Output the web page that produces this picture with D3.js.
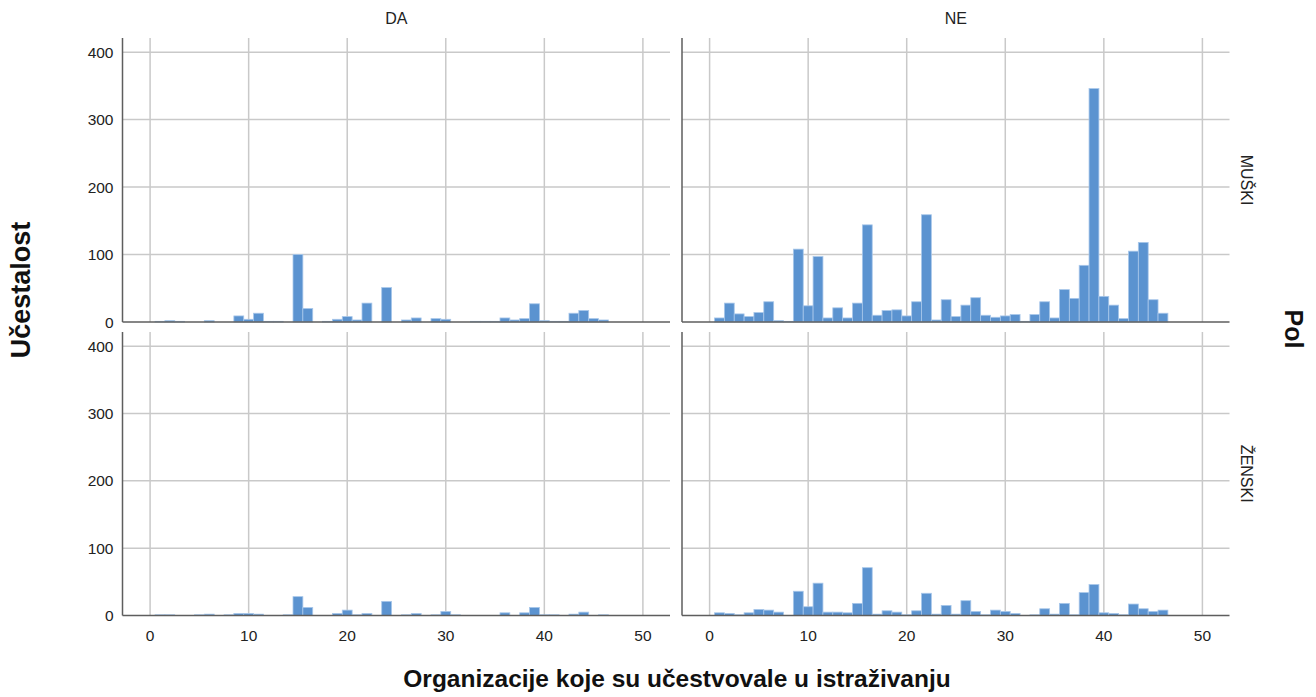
<!DOCTYPE html>
<html>
<head>
<meta charset="utf-8">
<script src="https://cdn.jsdelivr.net/npm/d3@7"></script>
<style>
  body { margin: 0; background: #fff; }
  text { font-family: "Liberation Sans", Arial, sans-serif; }
</style>
</head>
<body>
<div id="chart"></div>
<script>
// bins 1..46 (organizacija), one count per bin
var bins = d3.range(1, 47);

var daMuski = [1, 2, 1, 0, 0, 2, 0, 0, 9, 4, 13, 1, 1, 0, 100, 20, 0, 1, 4, 8, 3, 28, 0, 51, 0,
  3, 6, 0, 5, 4, 0, 0, 1, 1, 1, 6, 3, 5, 27, 2, 1, 1, 13, 17, 5, 3];
var neMuski = [6, 28, 12, 8, 14, 30, 2, 1, 108, 24, 97, 6, 21, 6, 28, 144, 10, 17, 18, 9, 30, 159, 3, 33, 8,
  25, 36, 10, 7, 9, 11, 1, 11, 30, 6, 48, 35, 84, 346, 38, 25, 5, 105, 118, 33, 13];
var daZenski = [1, 1, 0, 0, 1, 2, 0, 1, 3, 3, 2, 0, 0, 1, 28, 12, 0, 0, 3, 8, 1, 3, 0, 21, 0,
  1, 3, 0, 1, 6, 1, 0, 0, 0, 0, 4, 0, 4, 12, 1, 1, 0, 2, 5, 0, 1];
var neZenski = [4, 3, 1, 4, 9, 8, 5, 0, 36, 13, 48, 5, 5, 4, 18, 71, 2, 7, 5, 1, 7, 33, 2, 15, 2,
  22, 6, 1, 8, 6, 3, 0, 1, 10, 2, 18, 1, 34, 46, 4, 3, 1, 17, 10, 6, 8];

var colLabels = ["DA", "NE"];
var rowLabels = ["MUŠKI", "ŽENSKI"];
var xTicks = [0, 10, 20, 30, 40, 50];
var yTicks = [0, 100, 200, 300, 400];

var svgWidth = 1316;
var svgHeight = 697;

var svg = d3.select("#chart")
  .append("svg")
  .attr("width", svgWidth)
  .attr("height", svgHeight);

// panel boxes
var cols = [{left: 122.5, right: 670}, {left: 682, right: 1229.5}];
var rows = [{top: 38, bottom: 322}, {top: 332, bottom: 615.5}];

var panels = [
  {c: 0, r: 0, values: daMuski},
  {c: 1, r: 0, values: neMuski},
  {c: 0, r: 1, values: daZenski},
  {c: 1, r: 1, values: neZenski}
];

var gridColor = "#c9c9c9";
var axisColor = "#5e5e5e";
var barColor = "#5b93d0";

panels.forEach(function(p) {
  var col = cols[p.c];
  var row = rows[p.r];

  var x = d3.scaleLinear()
    .domain([-2.8, 52.75])
    .range([col.left, col.right]);

  var y = d3.scaleLinear()
    .domain([0, 421])
    .range([row.bottom, row.top]);

  var g = svg.append("g");

  // horizontal grid
  g.selectAll(".hgrid")
    .data(yTicks.filter(function(d) { return d > 0; }))
    .enter()
    .append("line")
    .attr("x1", col.left)
    .attr("x2", col.right)
    .attr("y1", d => y(d))
    .attr("y2", d => y(d))
    .attr("stroke", gridColor)
    .attr("stroke-width", 1.5);

  // vertical grid
  g.selectAll(".vgrid")
    .data(xTicks)
    .enter()
    .append("line")
    .attr("x1", d => x(d))
    .attr("x2", d => x(d))
    .attr("y1", row.top)
    .attr("y2", row.bottom)
    .attr("stroke", gridColor)
    .attr("stroke-width", 1.5);

  // bars (width 1, centred on the bin value)
  var data = bins.map(function(b, i) { return {bin: b, count: p.values[i]}; })
    .filter(function(d) { return d.count > 0; });

  g.selectAll("rect")
    .data(data)
    .enter()
    .append("rect")
    .attr("x", d => x(d.bin - 0.5))
    .attr("width", d => x(d.bin + 0.5) - x(d.bin - 0.5))
    .attr("y", d => y(d.count))
    .attr("height", d => y(0) - y(d.count))
    .attr("fill", barColor)
    .attr("stroke", "#a8c7ea")
    .attr("stroke-width", 0.8);

  // axis lines
  g.append("line")
    .attr("x1", col.left)
    .attr("x2", col.left)
    .attr("y1", row.top)
    .attr("y2", row.bottom)
    .attr("stroke", axisColor)
    .attr("stroke-width", 1.5);

  g.append("line")
    .attr("x1", col.left)
    .attr("x2", col.right)
    .attr("y1", row.bottom)
    .attr("y2", row.bottom)
    .attr("stroke", axisColor)
    .attr("stroke-width", 1.5);

  // y tick labels only on the left column
  if (p.c === 0) {
    g.selectAll(".ylab")
      .data(yTicks)
      .enter()
      .append("text")
      .attr("x", col.left - 9)
      .attr("y", d => y(d))
      .attr("dy", "0.36em")
      .attr("text-anchor", "end")
      .attr("font-size", "15.5px")
      .attr("fill", "#222")
      .text(d => d);
  }

  // x tick labels only on the bottom row
  if (p.r === 1) {
    g.selectAll(".xlab")
      .data(xTicks)
      .enter()
      .append("text")
      .attr("x", d => x(d))
      .attr("y", row.bottom + 25)
      .attr("text-anchor", "middle")
      .attr("font-size", "15.5px")
      .attr("fill", "#222")
      .text(d => d);
  }

  // column header
  if (p.r === 0) {
    svg.append("text")
      .attr("x", (col.left + col.right) / 2)
      .attr("y", 24)
      .attr("text-anchor", "middle")
      .attr("font-size", "16px")
      .attr("fill", "#222")
      .text(colLabels[p.c]);
  }

  // row header on the right
  if (p.c === 1) {
    var cy = (row.top + row.bottom) / 2;
    svg.append("text")
      .attr("transform", `translate(1241, ${cy}) rotate(90)`)
      .attr("text-anchor", "middle")
      .attr("font-size", "16px")
      .attr("fill", "#222")
      .text(rowLabels[p.r]);
  }
});

// axis titles
svg.append("text")
  .attr("x", 677)
  .attr("y", 687)
  .attr("text-anchor", "middle")
  .attr("font-size", "24.5px")
  .attr("font-weight", "bold")
  .attr("fill", "#111")
  .text("Organizacije koje su učestvovale u istraživanju");

svg.append("text")
  .attr("transform", "translate(30, 290) rotate(-90)")
  .attr("text-anchor", "middle")
  .attr("font-size", "27px")
  .attr("font-weight", "bold")
  .attr("fill", "#111")
  .text("Učestalost");

svg.append("text")
  .attr("transform", "translate(1285, 329) rotate(90)")
  .attr("text-anchor", "middle")
  .attr("font-size", "25px")
  .attr("font-weight", "bold")
  .attr("fill", "#111")
  .text("Pol");
</script>
</body>
</html>
